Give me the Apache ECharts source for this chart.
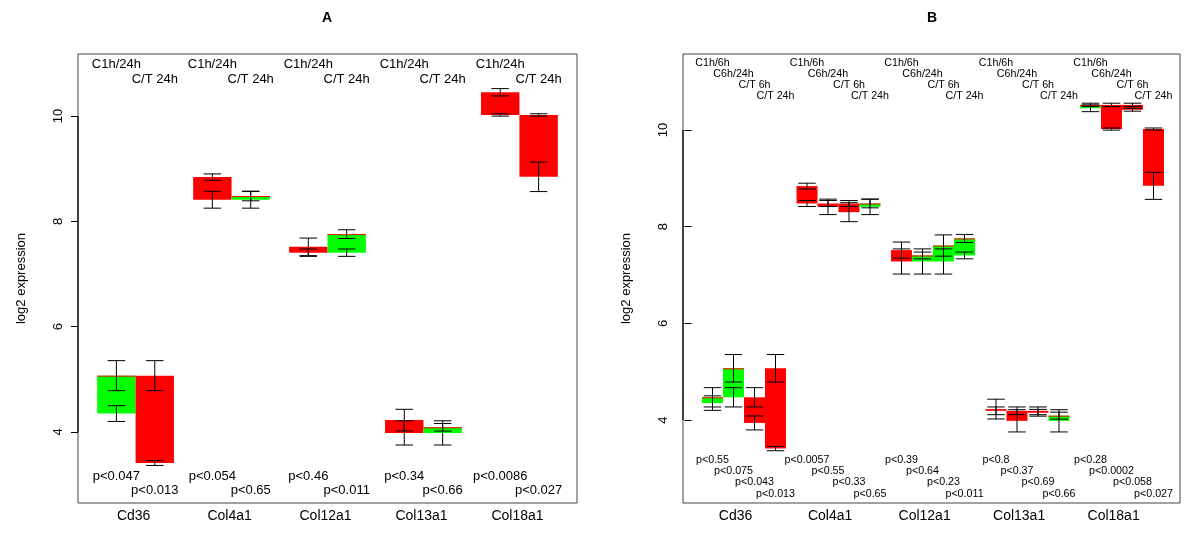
<!DOCTYPE html>
<html><head><meta charset="utf-8">
<script src="https://cdn.jsdelivr.net/npm/echarts@6/dist/echarts.min.js"></script>
<style>html,body{margin:0;padding:0;background:#fff}#c{width:1185px;height:549px}</style>
</head><body><div id="c"></div>
<script>
// ---- data (log2 expression: group means and standard errors) ----
const genes = ['Cd36', 'Col4a1', 'Col12a1', 'Col13a1', 'Col18a1'];
const meanC1h  = [4.35, 8.84, 7.515, 4.226, 10.45];
const seC1h    = [0.15, 0.06, 0.167, 0.205, 0.07];
const meanC6h  = [4.47, 8.48, 7.28, 4.19, 10.52];
const seC6h    = [0.20, 0.062, 0.26, 0.08, 0.035];
const meanC24h = [5.07, 8.41, 7.405, 3.983, 10.02];
const seC24h   = [0.285, 0.16, 0.07, 0.23, 0.022];
const meanT6h  = [3.94, 8.30, 7.61, 4.15, 10.42];
const seT6h    = [0.145, 0.196, 0.22, 0.07, 0.03];
const meanT24h = [3.41, 8.48, 7.757, 4.09, 8.845];
const seT24h   = [0.045, 0.09, 0.083, 0.072, 0.28];

// comparisons (first group, second group) and their labels
const compA = [['C1h', 'C24h'], ['C24h', 'T24h']];
const compALabels = ['C1h/24h', 'C/T 24h'];
const compB = [['C1h', 'C6h'], ['C6h', 'C24h'], ['C6h', 'T6h'], ['C24h', 'T24h']];
const compBLabels = ['C1h/6h', 'C6h/24h', 'C/T 6h', 'C/T 24h'];

// p-values per gene, per comparison
const pA = [
  ['p<0.047', 'p<0.013'],
  ['p<0.054', 'p<0.65'],
  ['p<0.46', 'p<0.011'],
  ['p<0.34', 'p<0.66'],
  ['p<0.0086', 'p<0.027']
];
const pB = [
  ['p<0.55', 'p<0.075', 'p<0.043', 'p<0.013'],
  ['p<0.0057', 'p<0.55', 'p<0.33', 'p<0.65'],
  ['p<0.39', 'p<0.64', 'p<0.23', 'p<0.011'],
  ['p<0.8', 'p<0.37', 'p<0.69', 'p<0.66'],
  ['p<0.28', 'p<0.0002', 'p<0.058', 'p<0.027']
];
const yTicks = [4, 6, 8, 10];
const panelTitles = ['A', 'B'];
const yTitle = 'log2 expression';

// ---- build ----
const means = {C1h: meanC1h, C6h: meanC6h, C24h: meanC24h, T6h: meanT6h, T24h: meanT24h};
const ses = {C1h: seC1h, C6h: seC6h, C24h: seC24h, T6h: seT6h, T24h: seT24h};
const FONT = '"Liberation Sans", Arial, Helvetica, sans-serif';
const RED = '#ff0000', GREEN = '#00ff00';

const panels = [
  {comps: compA, labels: compALabels, p: pA,
   grid: {left: 78, top: 54, width: 499, height: 449},
   xMin: 0, xMax: 13, yMin: 2.652, yMax: 11.177,
   lblFont: 13, topRows: [10, 25], botRows: [27, 13], catShift: -0.05, titleX: 327},
  {comps: compB, labels: compBLabels, p: pB,
   grid: {left: 683, top: 54, width: 497, height: 449},
   xMin: -0.405, xMax: 23.262, yMin: 2.283, yMax: 11.573,
   lblFont: 10.7, topRows: [9, 20, 31, 42], botRows: [43, 32, 20.5, 9], catShift: -0.4, titleX: 932}
];

const option = {
  animation: false,
  backgroundColor: '#fff',
  grid: [], xAxis: [], yAxis: [], series: [],
  graphic: []
};

panels.forEach((P, pi) => {
  const n = P.comps.length;
  const step = n + 0.5;
  option.grid.push(Object.assign({show: true, borderColor: '#444', borderWidth: 1, backgroundColor: 'transparent'}, P.grid));
  const centers = genes.map((g, gi) => 0.5 + step * gi + n / 2 + P.catShift);
  option.xAxis.push({
    type: 'value', gridIndex: pi, min: P.xMin, max: P.xMax,
    axisLine: {show: false}, axisTick: {show: false}, splitLine: {show: false},
    axisLabel: {
      show: true, customValues: centers, margin: 6,
      fontFamily: FONT, fontSize: 14, color: '#000',
      formatter: v => {
        let best = 0, bd = 1e9;
        centers.forEach((c, i) => { const d = Math.abs(c - v); if (d < bd) { bd = d; best = i; } });
        return genes[best];
      }
    }
  });
  option.yAxis.push({
    type: 'value', gridIndex: pi, min: P.yMin, max: P.yMax,
    name: yTitle, nameLocation: 'middle', nameGap: 50, nameRotate: 90,
    nameTextStyle: {fontFamily: FONT, fontSize: 13, color: '#000'},
    axisLine: {show: false}, splitLine: {show: false},
    axisTick: {show: true, customValues: yTicks, length: 7, lineStyle: {color: '#000', width: 1}},
    axisLabel: {show: true, customValues: yTicks, rotate: 90, margin: 13,
      fontFamily: FONT, fontSize: 13, color: '#000'}
  });

  // boxes with error bars
  const boxData = [];
  const lblData = [];
  genes.forEach((g, gi) => {
    P.comps.forEach((cmp, k) => {
      const x0 = 0.5 + step * gi + k;
      boxData.push([x0, means[cmp[0]][gi], ses[cmp[0]][gi], means[cmp[1]][gi], ses[cmp[1]][gi]]);
      lblData.push([x0 + 0.5, k, gi]);
    });
  });

  option.series.push({
    type: 'custom', xAxisIndex: pi, yAxisIndex: pi, data: boxData, silent: true,
    renderItem: (params, api) => {
      const x0 = api.value(0), m1 = api.value(1), s1 = api.value(2), m2 = api.value(3), s2 = api.value(4);
      const hi = Math.max(m1, m2), lo = Math.min(m1, m2);
      const tl = api.coord([x0, hi]), br = api.coord([x0 + 1, lo]);
      const red = m1 > m2;
      const ch = [];
      ch.push({type: 'rect', shape: {x: tl[0], y: tl[1], width: br[0] - tl[0], height: Math.max(br[1] - tl[1], 1)},
        style: {fill: red ? RED : GREEN}});
      if (!red) ch.push({type: 'line', shape: {x1: tl[0], y1: tl[1] + 0.5, x2: br[0], y2: tl[1] + 0.5},
        style: {stroke: RED, lineWidth: 1}});
      const xc = api.coord([x0 + 0.5, hi])[0];
      [[m1, s1], [m2, s2]].forEach(([m, s]) => {
        const yt = api.coord([x0, m + s])[1], yb = api.coord([x0, m - s])[1];
        const st = {stroke: '#000', lineWidth: 1};
        ch.push({type: 'line', shape: {x1: xc, y1: yt, x2: xc, y2: yb}, style: st});
        ch.push({type: 'line', shape: {x1: xc - 8.75, y1: yt, x2: xc + 8.75, y2: yt}, style: st});
        ch.push({type: 'line', shape: {x1: xc - 8.75, y1: yb, x2: xc + 8.75, y2: yb}, style: st});
      });
      return {type: 'group', children: ch};
    }
  });

  // comparison labels and p-values
  option.series.push({
    type: 'custom', xAxisIndex: pi, yAxisIndex: pi, data: lblData, silent: true,
    renderItem: (params, api) => {
      const xc = api.coord([api.value(0), P.yMin])[0];
      const k = api.value(1), gi = api.value(2);
      const cs = params.coordSys;
      const mk = (txt, y) => ({type: 'text', x: xc, y: y,
        style: {text: txt, fill: '#000', font: P.lblFont + 'px ' + FONT,
          align: 'center', verticalAlign: 'middle', textAlign: 'center', textVerticalAlign: 'middle'}});
      return {type: 'group', children: [
        mk(P.labels[k], cs.y + P.topRows[k]),
        mk(P.p[gi][k], cs.y + cs.height - P.botRows[k])
      ]};
    }
  });

  // axis line between first and last tick
  option.series.push({
    type: 'custom', xAxisIndex: pi, yAxisIndex: pi, data: [[yTicks[0], yTicks[yTicks.length - 1]]], silent: true,
    renderItem: (params, api) => {
      const a = api.coord([P.xMin, api.value(0)]), b = api.coord([P.xMin, api.value(1)]);
      return {type: 'line', shape: {x1: a[0], y1: a[1], x2: b[0], y2: b[1]}, style: {stroke: '#000', lineWidth: 1.2}};
    }
  });

  option.graphic.push({type: 'text', x: P.titleX, y: 18,
    style: {text: panelTitles[pi], fill: '#000', font: 'bold 14px ' + FONT,
      align: 'center', verticalAlign: 'middle', textAlign: 'center', textVerticalAlign: 'middle'}});
});

const chart = echarts.init(document.getElementById('c'), null, {renderer: 'canvas', width: 1185, height: 549});
chart.setOption(option);
</script>
</body></html>
